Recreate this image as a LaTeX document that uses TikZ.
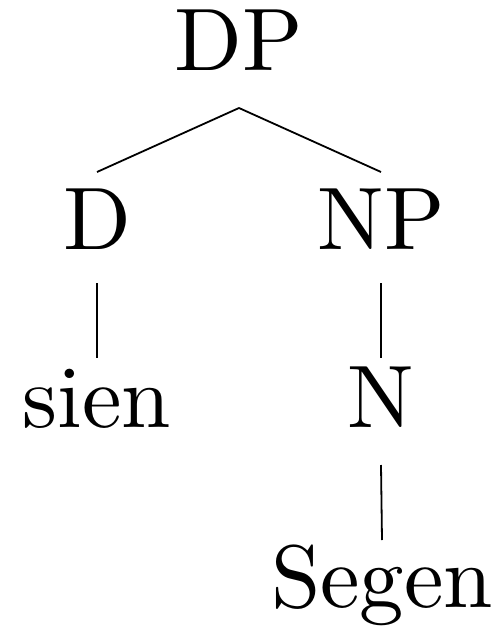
\documentclass[tikz,border=0pt]{standalone}
\usepackage{fontspec}
\begin{document}
\begin{tikzpicture}[x=0.25pt,y=-0.25pt,
  lbl/.style={anchor=base,inner sep=0pt,scale=2.22},
  edge/.style={line width=0.45pt}]
\useasboundingbox (0,0) rectangle (503,631);
\node[lbl] (DP) at (239,71) {DP};
\node[lbl] (D) at (97,250) {D};
\node[lbl] (NP) at (381,250) {NP};
\node[lbl] (sien) at (97,427) {sien};
\node[lbl] (N) at (381,427) {N};
\node[lbl] (Segen) at (382,607) {Segen};
\coordinate (a) at ([shift={(0,37)}]DP.base);
\coordinate (b) at ([shift={(0,-78)}]D.base);
\coordinate (c) at ([shift={(0,-78)}]NP.base);
\draw[edge] (a) -- (b);
\draw[edge] (a) -- (c);
\draw[edge] ([shift={(0,33)}]D.base) -- ([shift={(0,-69)}]sien.base);
\draw[edge] ([shift={(0,33)}]NP.base) -- ([shift={(0,-69)}]N.base);
\draw[edge] ([shift={(0,38)}]N.base) -- ([shift={(0,-67)}]Segen.base);
\end{tikzpicture}
\end{document}
